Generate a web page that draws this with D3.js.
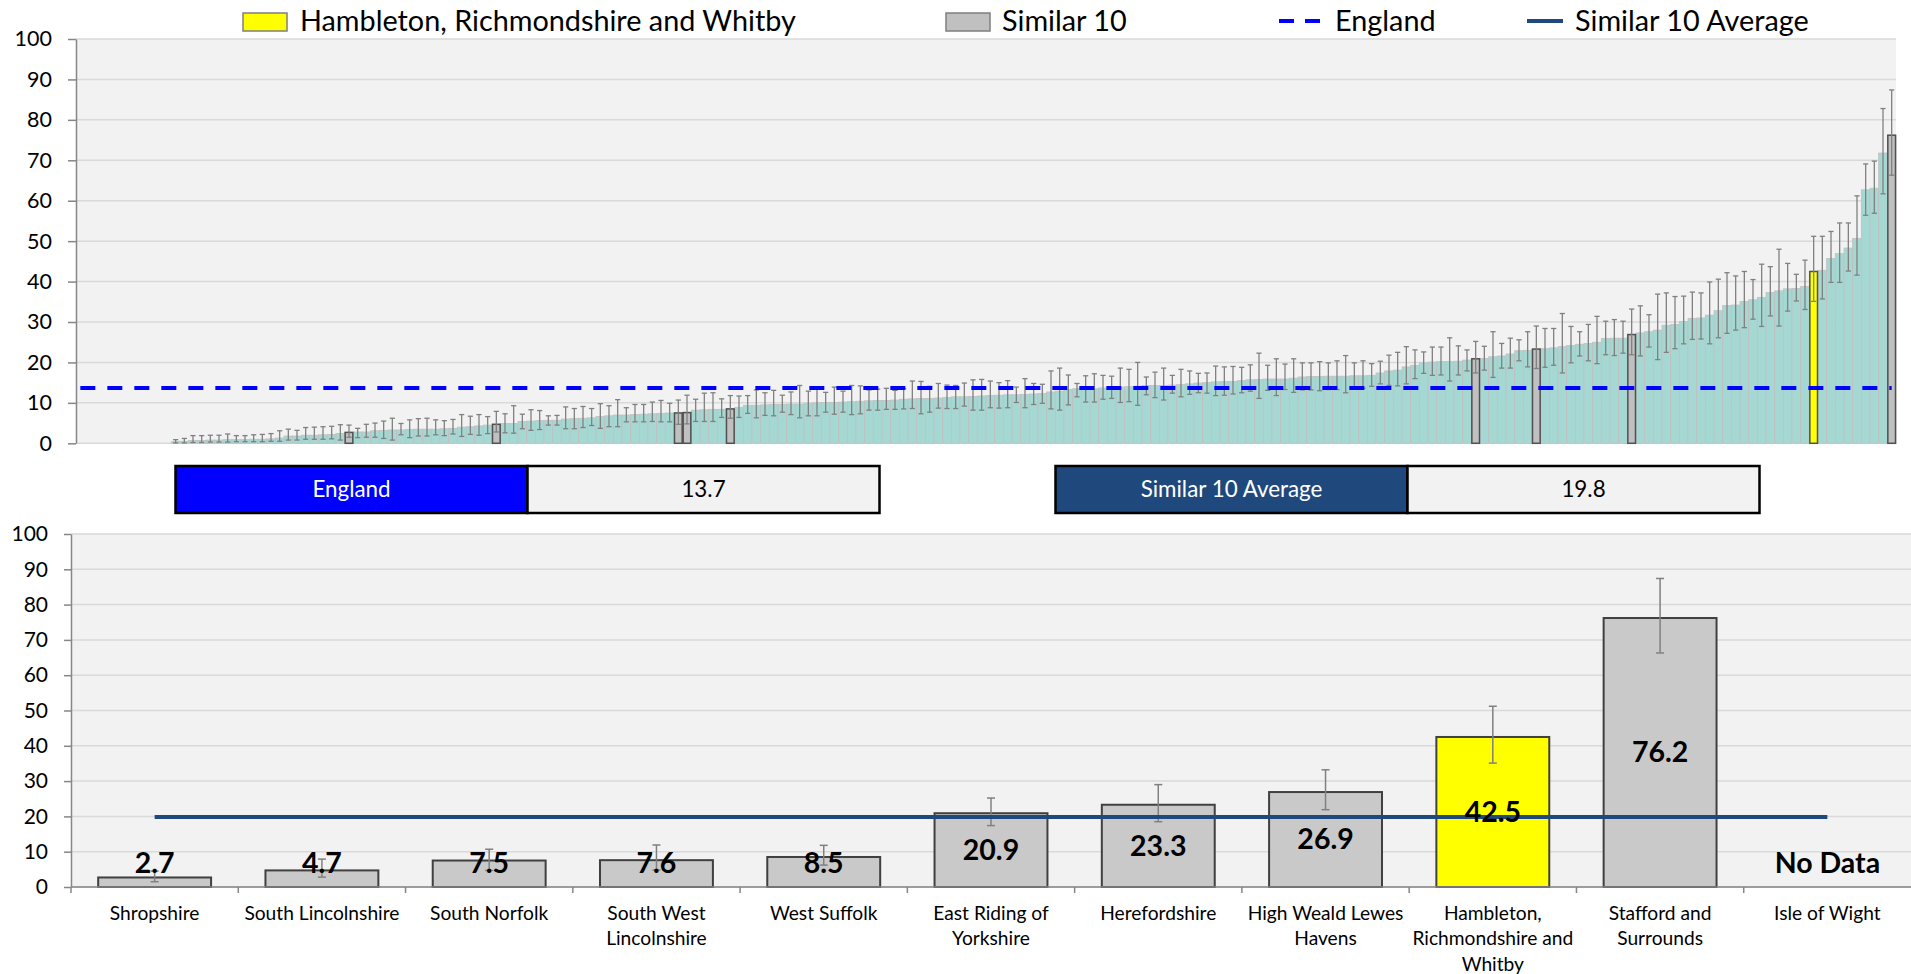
<!DOCTYPE html>
<html>
<head>
<meta charset="utf-8">
<script src="https://cdn.jsdelivr.net/npm/d3@7"></script>
<style>
  html, body { margin: 0; padding: 0; background: #ffffff; }
  svg { display: block; font-family: Lato, "Open Sans", sans-serif; }
</style>
</head>
<body>
<svg id="chart" width="1911" height="974"></svg>
<script>
// ── Data: all areas, sorted (first 11 positions have no value) ────────────────
const areaValue = [
  null, null, null, null, null, null, null, null, null, null, null,
  0.4, 0.5, 0.7, 0.7, 0.8, 0.8, 0.9, 0.9, 0.9, 1.0,
  1.0, 1.1, 1.3, 1.8, 1.8, 2.0, 2.0, 2.1, 2.2, 2.4,
  2.7, 2.8, 2.8, 3.1, 3.2, 3.3, 3.3, 3.4, 3.5, 3.5,
  3.5, 3.6, 3.7, 4.0, 4.1, 4.3, 4.5, 4.7, 4.9, 4.9,
  5.4, 5.5, 5.6, 5.7, 5.7, 6.0, 6.1, 6.2, 6.3, 6.6,
  6.8, 7.0, 7.0, 7.1, 7.2, 7.3, 7.4, 7.5, 7.5, 7.6,
  8.2, 8.3, 8.4, 8.4, 8.5, 8.9, 9.4, 9.4, 9.5, 9.6,
  9.6, 9.7, 9.7, 9.9, 10.0, 10.1, 10.1, 10.2, 10.3, 10.4,
  10.5, 10.6, 10.6, 10.7, 10.9, 11.0, 11.1, 11.1, 11.2, 11.3,
  11.5, 11.5, 11.6, 11.7, 11.8, 11.9, 12.0, 12.0, 12.1, 12.2,
  12.3, 12.7, 12.9, 13.3, 13.5, 13.5, 13.5, 13.7, 13.7, 13.9,
  14.0, 14.1, 14.3, 14.3, 14.3, 14.4, 14.5, 14.7, 14.9, 15.0,
  15.2, 15.3, 15.3, 15.5, 15.7, 15.8, 15.9, 15.9, 15.9, 16.1,
  16.4, 16.5, 16.5, 16.6, 16.6, 16.6, 16.7, 16.7, 16.8, 17.4,
  17.9, 18.1, 18.9, 19.3, 19.9, 20.1, 20.2, 20.2, 20.3, 20.6,
  20.9, 21.0, 21.4, 21.6, 22.1, 22.9, 23.0, 23.3, 23.4, 23.6,
  23.9, 24.2, 24.5, 24.7, 25.0, 25.9, 26.0, 26.0, 26.9, 27.3,
  27.6, 28.0, 29.2, 29.4, 30.1, 30.9, 31.0, 31.7, 32.8, 34.1,
  34.2, 35.1, 35.5, 36.1, 37.3, 37.7, 38.2, 38.3, 38.8, 42.5,
  42.8, 45.7, 46.9, 48.3, 50.7, 62.7, 63.1, 71.8, 76.2
];
const areaLower = [
  null, null, null, null, null, null, null, null, null, null, null,
  0.1, 0.1, 0.2, 0.2, 0.3, 0.3, 0.3, 0.4, 0.4, 0.4,
  0.4, 0.5, 0.5, 0.8, 0.8, 1.0, 1.0, 1.0, 1.1, 0.8,
  1.5, 1.4, 1.5, 1.5, 1.2, 0.8, 2.1, 1.4, 1.8, 1.8,
  2.1, 1.9, 2.3, 1.7, 2.2, 2.0, 2.4, 2.8, 2.6, 2.5,
  3.6, 3.2, 3.4, 4.5, 4.5, 3.6, 3.6, 3.9, 4.4, 3.7,
  4.1, 4.1, 5.3, 5.3, 5.3, 5.4, 5.3, 5.3, 4.7, 4.8,
  5.4, 5.4, 5.4, 6.4, 6.2, 6.4, 7.4, 6.3, 6.9, 6.8,
  7.7, 7.1, 6.3, 6.8, 6.8, 7.7, 7.2, 7.7, 7.1, 7.3,
  8.2, 8.2, 8.4, 8.4, 8.5, 8.6, 7.3, 7.7, 8.7, 8.6,
  8.6, 9.2, 8.2, 8.2, 8.8, 8.7, 8.8, 10.1, 8.8, 9.6,
  9.9, 8.5, 8.2, 9.5, 11.5, 10.2, 10.2, 10.9, 11.1, 10.1,
  10.3, 9.4, 12.0, 11.3, 10.7, 12.4, 11.5, 12.1, 12.5, 12.4,
  11.8, 11.9, 12.2, 12.5, 12.9, 11.1, 13.1, 11.8, 13.3, 12.6,
  13.2, 13.2, 13.0, 13.3, 13.3, 12.5, 13.6, 13.6, 14.1, 14.7,
  14.3, 14.2, 14.7, 16.0, 17.3, 16.8, 16.9, 15.4, 16.9, 17.9,
  17.4, 18.1, 16.3, 18.6, 18.6, 20.4, 18.9, 18.5, 18.8, 19.3,
  17.4, 19.9, 21.6, 20.4, 19.7, 21.9, 21.7, 22.3, 21.9, 21.6,
  23.8, 20.7, 22.5, 23.4, 24.6, 25.7, 25.8, 24.6, 26.1, 27.2,
  28.0, 28.6, 30.7, 28.9, 31.5, 29.0, 32.7, 35.2, 33.1, 35.1,
  35.7, 39.8, 39.8, 42.6, 41.6, 56.4, 56.9, 61.7, 66.3
];
const areaUpper = [
  null, null, null, null, null, null, null, null, null, null, null,
  0.9, 1.2, 1.9, 1.9, 2.0, 2.0, 2.3, 1.9, 1.9, 2.1,
  2.2, 2.4, 3.1, 3.5, 3.2, 3.9, 4.0, 4.1, 4.2, 4.6,
  4.5, 3.7, 4.7, 5.0, 5.5, 6.2, 4.9, 5.8, 6.1, 6.2,
  5.8, 5.6, 5.9, 7.1, 6.7, 7.1, 6.6, 7.9, 7.3, 9.3,
  7.2, 8.3, 8.1, 6.8, 6.9, 9.0, 8.6, 9.1, 8.6, 9.8,
  9.3, 10.8, 8.8, 9.6, 9.6, 10.2, 10.6, 9.9, 10.7, 11.9,
  10.9, 12.4, 12.5, 11.0, 11.8, 11.7, 11.8, 13.2, 12.5, 13.1,
  11.9, 12.7, 14.3, 12.9, 13.8, 12.6, 13.9, 12.9, 14.3, 14.2,
  13.2, 13.4, 13.6, 13.1, 13.5, 15.4, 15.3, 14.1, 14.8, 14.4,
  14.3, 14.9, 15.7, 15.8, 15.4, 15.0, 15.5, 13.9, 16.0, 14.8,
  14.6, 17.9, 18.6, 16.9, 14.8, 16.7, 17.2, 16.8, 16.6, 18.6,
  18.3, 20.0, 16.4, 17.6, 18.6, 16.8, 18.3, 17.9, 17.3, 17.4,
  19.1, 18.9, 19.0, 18.8, 19.4, 22.3, 19.3, 20.9, 19.6, 20.9,
  19.9, 19.9, 20.2, 19.9, 20.4, 21.7, 19.9, 20.4, 19.7, 20.3,
  21.8, 22.5, 23.9, 23.1, 22.6, 23.8, 23.8, 26.1, 24.1, 23.1,
  25.2, 24.0, 27.6, 24.7, 26.0, 25.6, 27.6, 29.0, 28.4, 28.4,
  32.1, 28.9, 27.6, 29.4, 31.4, 30.2, 30.6, 30.2, 33.2, 34.0,
  31.8, 36.9, 37.2, 36.3, 36.4, 37.4, 37.2, 39.9, 40.6, 42.2,
  41.4, 42.5, 40.5, 44.3, 43.7, 48.0, 44.5, 41.8, 45.3, 51.2,
  51.2, 52.4, 54.5, 54.5, 61.2, 69.1, 69.8, 82.8, 87.4
];

// ── Data: the selected area and its similar 10 ────────────────────────────────
const peerNames  = ['Shropshire', 'South Lincolnshire', 'South Norfolk', 'South West Lincolnshire',
                    'West Suffolk', 'East Riding of Yorkshire', 'Herefordshire', 'High Weald Lewes Havens',
                    'Hambleton, Richmondshire and Whitby', 'Stafford and Surrounds', 'Isle of Wight'];
const peerValues = [2.7, 4.7, 7.5, 7.6, 8.5, 20.9, 23.3, 26.9, 42.5, 76.2, null];
const peerLower  = [1.5, 2.8, 4.7, 4.8, 6.2, 17.4, 18.5, 21.9, 35.1, 66.3, null];
const peerUpper  = [4.5, 7.9, 10.7, 11.9, 11.8, 25.2, 29.0, 33.2, 51.2, 87.4, null];
const peerRank   = [31, 48, 69, 70, 75, 161, 168, 179, 200, 209, null];   // position in the sorted chart
const selectedName = 'Hambleton, Richmondshire and Whitby';

const englandValue = 13.7;
const similarAverage = 19.8;
const yTicks = [0, 10, 20, 30, 40, 50, 60, 70, 80, 90, 100];

// ── Styles ────────────────────────────────────────────────────────────────────
const C = {
  plotBg: '#f2f2f2', grid: '#d9d9d9', axis: '#868686',
  teal: '#a6d8d3', tealEdge: '#c0c0c0',
  grey: '#c0c0c0', greyBot: '#c9c9c9', edge: '#505050',
  yellow: '#ffff00', err: '#808080',
  england: '#0000ff', avg: '#1f497d'
};

const svg = d3.select('#chart');

// ── Legend ────────────────────────────────────────────────────────────────────
const legend = svg.append('g').attr('font-size', 28.8).attr('fill', '#000');
legend.append('rect').attr('x', 243).attr('y', 13).attr('width', 44).attr('height', 18)
  .attr('fill', C.yellow).attr('stroke', '#7f7f7f').attr('stroke-width', 1.5);
legend.append('text').attr('x', 300).attr('y', 21).attr('dy', '0.35em').text(selectedName);
legend.append('rect').attr('x', 946).attr('y', 13).attr('width', 44).attr('height', 18)
  .attr('fill', C.grey).attr('stroke', '#7f7f7f').attr('stroke-width', 1.5);
legend.append('text').attr('x', 1002).attr('y', 21).attr('dy', '0.35em').text('Similar 10');
legend.append('line').attr('x1', 1279).attr('x2', 1320).attr('y1', 21).attr('y2', 21)
  .attr('stroke', C.england).attr('stroke-width', 4).attr('stroke-dasharray', '15,11');
legend.append('text').attr('x', 1335).attr('y', 21).attr('dy', '0.35em').text('England');
legend.append('line').attr('x1', 1527).attr('x2', 1563).attr('y1', 21).attr('y2', 21)
  .attr('stroke', C.avg).attr('stroke-width', 4);
legend.append('text').attr('x', 1575).attr('y', 21).attr('dy', '0.35em').text('Similar 10 Average');

// ── Top chart: all areas ──────────────────────────────────────────────────────
const xTop = d3.scaleBand().domain(d3.range(areaValue.length)).range([76, 1896]).padding(0);
const yTop = d3.scaleLinear().domain([0, 100]).range([443.3, 39]);
const topG = svg.append('g');

topG.append('rect').attr('x', 76).attr('y', yTop(100)).attr('width', 1896 - 76)
  .attr('height', yTop(0) - yTop(100)).attr('fill', C.plotBg);
topG.selectAll('line.grid').data(yTicks).enter().append('line')
  .attr('x1', 76).attr('x2', 1896).attr('y1', d => yTop(d)).attr('y2', d => yTop(d))
  .attr('stroke', C.grid).attr('stroke-width', 1.5);

const areas = areaValue.map((v, i) => ({ i, v, lo: areaLower[i], hi: areaUpper[i] })).filter(d => d.v != null);

topG.selectAll('rect.area').data(areas).enter().append('rect')
  .attr('x', d => xTop(d.i)).attr('width', xTop.bandwidth())
  .attr('y', d => yTop(d.v)).attr('height', d => yTop(0) - yTop(d.v))
  .attr('fill', C.teal).attr('stroke', C.tealEdge).attr('stroke-width', 0.8);

const highlighted = peerRank.map((r, k) => ({ r, k })).filter(d => d.r != null);
topG.selectAll('rect.peer').data(highlighted).enter().append('rect')
  .attr('x', d => xTop(d.r) + 0.5).attr('width', xTop.bandwidth() - 1)
  .attr('y', d => yTop(areaValue[d.r])).attr('height', d => yTop(0) - yTop(areaValue[d.r]))
  .attr('fill', d => peerNames[d.k] === selectedName ? C.yellow : C.grey)
  .attr('stroke', C.edge).attr('stroke-width', 1.5);

const bwTop = xTop.bandwidth();
const errTop = topG.append('g').attr('stroke', C.err).attr('stroke-width', 1.3);
areas.forEach(d => {
  const cx = xTop(d.i) + bwTop / 2;
  errTop.append('line').attr('x1', cx).attr('x2', cx).attr('y1', yTop(d.lo)).attr('y2', yTop(d.hi));
  [d.lo, d.hi].forEach(v => errTop.append('line')
    .attr('x1', cx - 2.6).attr('x2', cx + 2.6).attr('y1', yTop(v)).attr('y2', yTop(v)));
});

topG.append('line')
  .attr('x1', xTop(0) + bwTop / 2).attr('x2', xTop(areaValue.length - 1) + bwTop / 2)
  .attr('y1', yTop(englandValue)).attr('y2', yTop(englandValue))
  .attr('stroke', C.england).attr('stroke-width', 4).attr('stroke-dasharray', '15,12');

const yAxisTop = topG.append('g').attr('transform', 'translate(76,0)')
  .call(d3.axisLeft(yTop).tickValues(yTicks).tickSize(8).tickSizeOuter(0).tickPadding(16));
yAxisTop.select('.domain').attr('stroke', C.axis).attr('stroke-width', 1.5);
yAxisTop.selectAll('.tick line').attr('stroke', C.axis).attr('stroke-width', 1.5);
yAxisTop.selectAll('.tick text').attr('font-size', 21.5).attr('font-family', 'Lato').attr('fill', '#000');

// ── Reference value boxes ─────────────────────────────────────────────────────
const boxes = [
  { label: 'England', value: englandValue, color: C.england, x: 175.5 },
  { label: 'Similar 10 Average', value: similarAverage, color: C.avg, x: 1055.5 }
];
boxes.forEach(b => {
  const g = svg.append('g').attr('font-size', 22.4);
  g.append('rect').attr('x', b.x).attr('y', 466).attr('width', 352).attr('height', 47)
    .attr('fill', b.color).attr('stroke', '#000').attr('stroke-width', 2.5);
  g.append('rect').attr('x', b.x + 352).attr('y', 466).attr('width', 352).attr('height', 47)
    .attr('fill', C.plotBg).attr('stroke', '#000').attr('stroke-width', 2.5);
  g.append('text').attr('x', b.x + 176).attr('y', 489.5).attr('dy', '0.35em')
    .attr('text-anchor', 'middle').attr('fill', '#fff').text(b.label);
  g.append('text').attr('x', b.x + 528).attr('y', 489.5).attr('dy', '0.35em')
    .attr('text-anchor', 'middle').attr('fill', '#000').text(b.value.toFixed(1));
});

// ── Bottom chart: the similar 10 ──────────────────────────────────────────────
const xBot = d3.scaleBand().domain(peerNames).range([71, 1911]).padding(0);
const yBot = d3.scaleLinear().domain([0, 100]).range([887, 534]);
const botG = svg.append('g');
const barW = xBot.step() * 0.675;
const cxBot = n => xBot(n) + xBot.bandwidth() / 2;
const labelFloor = 863;

botG.append('rect').attr('x', 71).attr('y', yBot(100)).attr('width', 1911 - 71)
  .attr('height', yBot(0) - yBot(100)).attr('fill', C.plotBg);
botG.selectAll('line.grid').data(yTicks).enter().append('line')
  .attr('x1', 71).attr('x2', 1911).attr('y1', d => yBot(d)).attr('y2', d => yBot(d))
  .attr('stroke', C.grid).attr('stroke-width', 1.5);

const peers = peerNames.map((n, k) => ({ n, v: peerValues[k], lo: peerLower[k], hi: peerUpper[k] }));
const withData = peers.filter(d => d.v != null);

botG.selectAll('rect.bar').data(withData).enter().append('rect')
  .attr('x', d => cxBot(d.n) - barW / 2).attr('width', barW)
  .attr('y', d => yBot(d.v)).attr('height', d => yBot(0) - yBot(d.v))
  .attr('fill', d => d.n === selectedName ? C.yellow : C.greyBot)
  .attr('stroke', '#404040').attr('stroke-width', 2);

const errBot = botG.append('g').attr('stroke', C.err).attr('stroke-width', 1.5);
withData.forEach(d => {
  const cx = cxBot(d.n);
  errBot.append('line').attr('x1', cx).attr('x2', cx).attr('y1', yBot(d.lo)).attr('y2', yBot(d.hi));
  [d.lo, d.hi].forEach(v => errBot.append('line')
    .attr('x1', cx - 4).attr('x2', cx + 4).attr('y1', yBot(v)).attr('y2', yBot(v)));
});

botG.append('line')
  .attr('x1', cxBot(peerNames[0])).attr('x2', cxBot(peerNames[peerNames.length - 1]))
  .attr('y1', yBot(similarAverage)).attr('y2', yBot(similarAverage))
  .attr('stroke', C.avg).attr('stroke-width', 4);

// data labels
botG.selectAll('text.val').data(peers).enter().append('text')
  .attr('x', d => cxBot(d.n))
  .attr('y', d => d.v == null ? labelFloor : Math.min((yBot(d.v) + yBot(0)) / 2, labelFloor))
  .attr('dy', '0.35em').attr('text-anchor', 'middle')
  .attr('font-size', 28.5).attr('font-weight', 700).attr('fill', '#000')
  .text(d => d.v == null ? 'No Data' : d.v.toFixed(1));

// axes
const yAxisBot = botG.append('g').attr('transform', 'translate(71,0)')
  .call(d3.axisLeft(yBot).tickValues(yTicks).tickSize(7).tickSizeOuter(0).tickPadding(16));
yAxisBot.select('.domain').attr('stroke', C.axis).attr('stroke-width', 1.5);
yAxisBot.selectAll('.tick line').attr('stroke', C.axis).attr('stroke-width', 1.5);
yAxisBot.selectAll('.tick text').attr('font-size', 21).attr('font-family', 'Lato').attr('fill', '#000');

botG.append('line').attr('x1', 71).attr('x2', 1911).attr('y1', yBot(0)).attr('y2', yBot(0))
  .attr('stroke', C.axis).attr('stroke-width', 1.5);
botG.selectAll('line.xtick').data(peerNames).enter().append('line')
  .attr('x1', d => xBot(d)).attr('x2', d => xBot(d))
  .attr('y1', yBot(0)).attr('y2', yBot(0) + 6)
  .attr('stroke', C.axis).attr('stroke-width', 1.5);

// category labels, wrapped like the spreadsheet
const catLabels = botG.selectAll('text.cat').data(peerNames).enter().append('text')
  .attr('text-anchor', 'middle').attr('font-size', 19.2).attr('fill', '#000');
catLabels.each(function (name) {
  const t = d3.select(this);
  const words = name.split(' ');
  const lines = [];
  let cur = '';
  const probe = t.append('tspan');
  words.forEach(w => {
    const test = cur ? cur + ' ' + w : w;
    probe.text(test);
    if (probe.node().getComputedTextLength() > 172 && cur) { lines.push(cur); cur = w; }
    else cur = test;
  });
  lines.push(cur);
  probe.remove();
  lines.forEach((ln, j) => t.append('tspan')
    .attr('x', cxBot(name)).attr('y', 913 + j * 25.5).attr('dy', '0.35em').text(ln));
});
</script>
</body>
</html>
